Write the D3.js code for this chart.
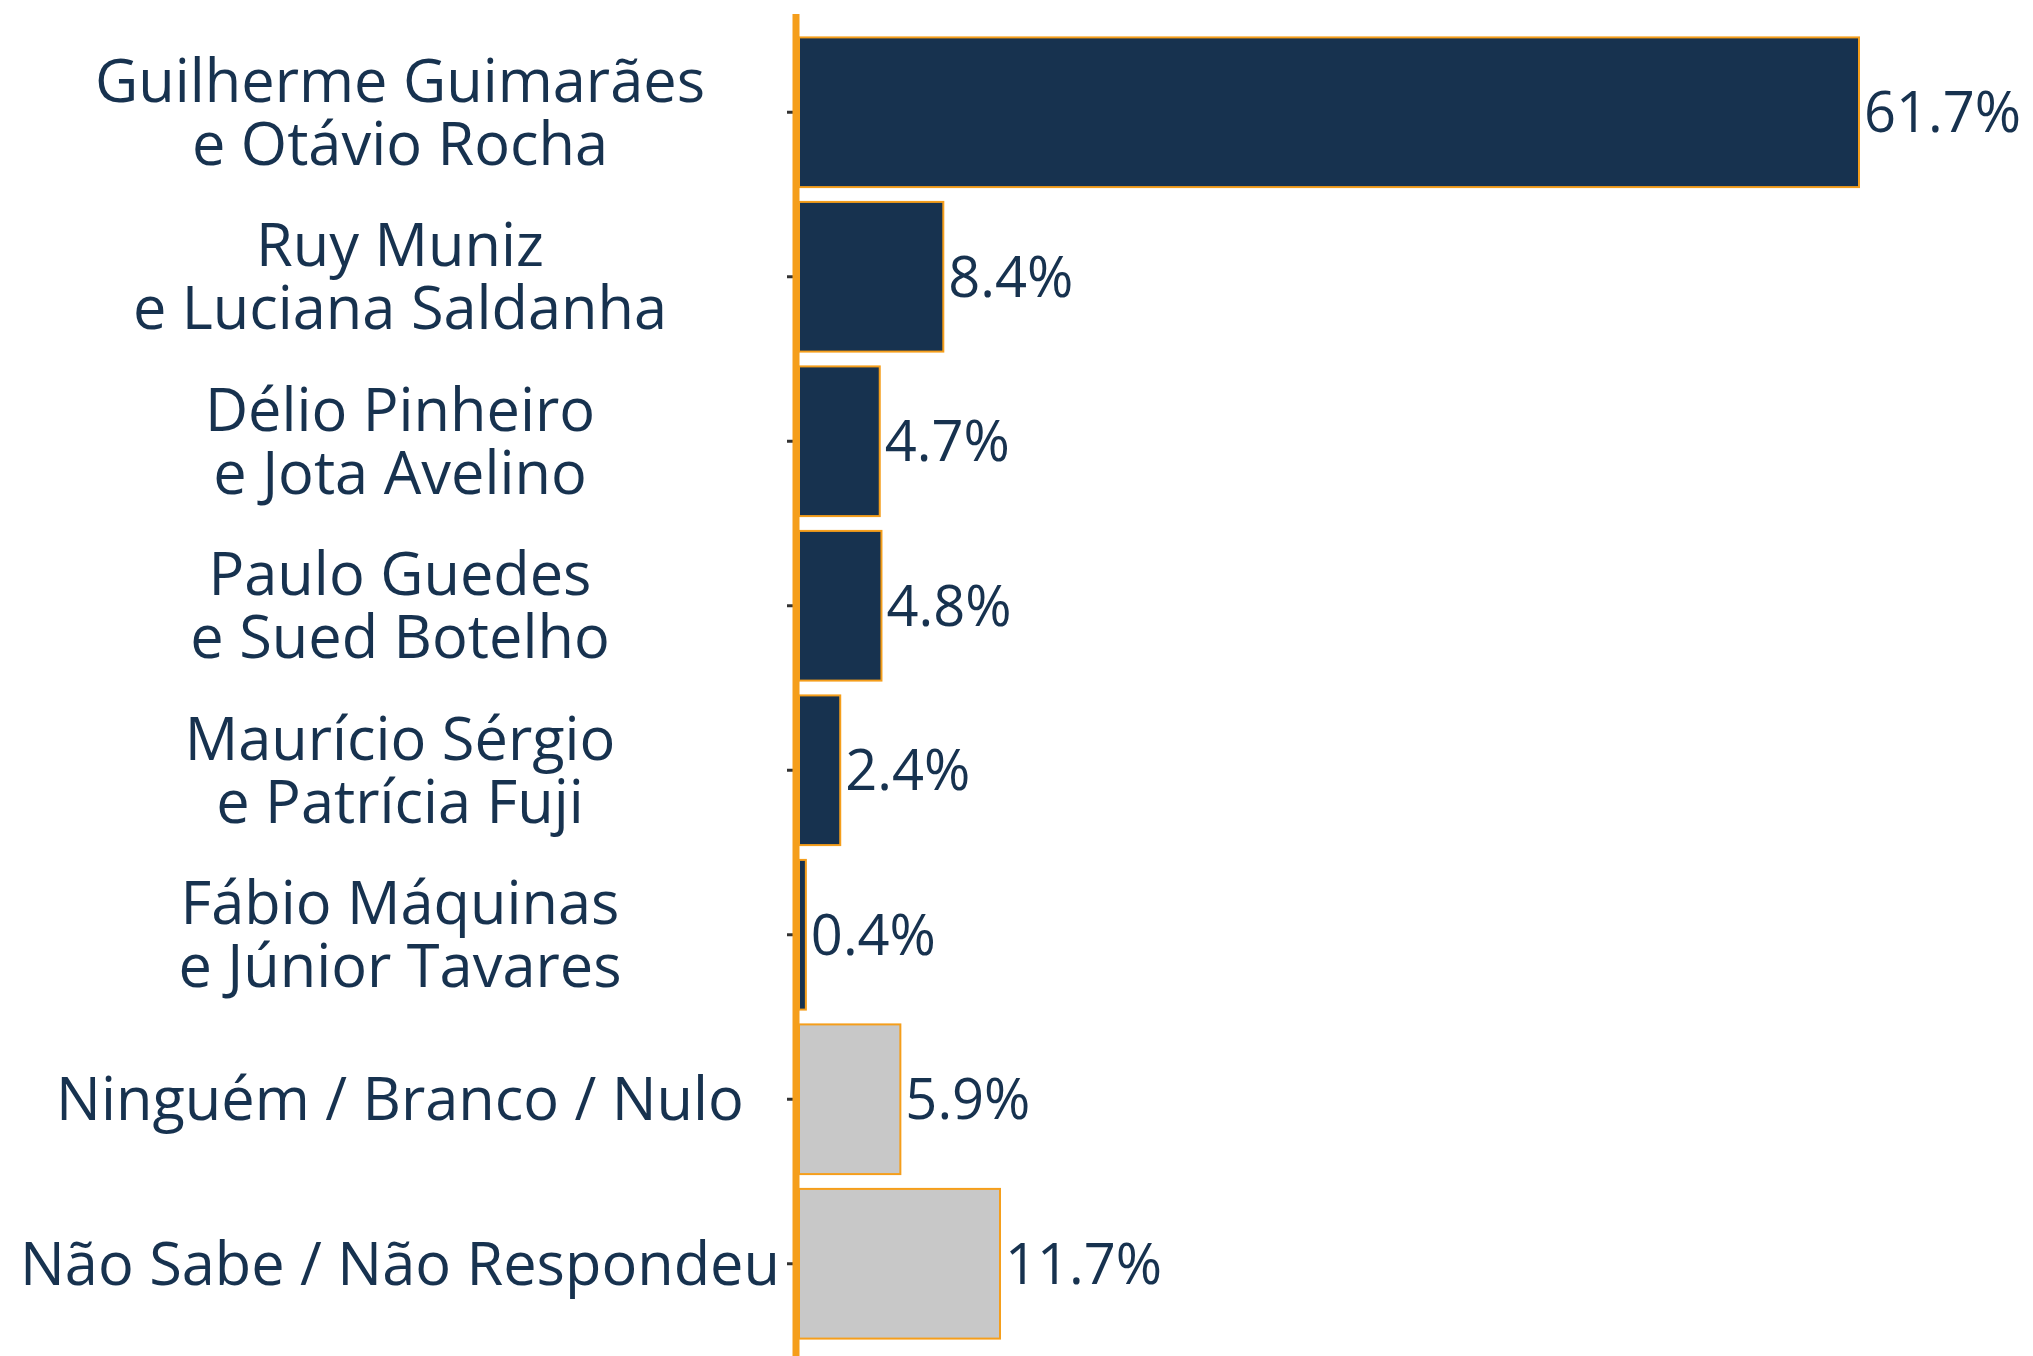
<!DOCTYPE html>
<html>
<head>
<meta charset="utf-8">
<script src="https://cdn.jsdelivr.net/npm/d3@7"></script>
<style>
  body { margin: 0; background: #fff; }
  text { font-family: "Open Sans", "Noto Sans", sans-serif; }
</style>
</head>
<body>
<svg id="chart"></svg>
<script>
var width = 2033, height = 1356;

// dados
var candidatos = [
  "Guilherme Guimarães\ne Otávio Rocha",
  "Ruy Muniz\ne Luciana Saldanha",
  "Délio Pinheiro\ne Jota Avelino",
  "Paulo Guedes\ne Sued Botelho",
  "Maurício Sérgio\ne Patrícia Fuji",
  "Fábio Máquinas\ne Júnior Tavares",
  "Ninguém / Branco / Nulo",
  "Não Sabe / Não Respondeu"
];
var percentuais = [61.7, 8.4, 4.7, 4.8, 2.4, 0.4, 5.9, 11.7];
var tipos = ["cand", "cand", "cand", "cand", "cand", "cand", "outro", "outro"];

var navy = "#17324f", laranja = "#f59e1b", cinza = "#c8c8c8";

var svg = d3.select("#chart").attr("width", width).attr("height", height);

var x0 = 799;
var x = d3.scaleLinear()
  .domain([0, 61.7])
  .range([x0, 1859]);

var y = d3.scaleBand()
  .domain(candidatos)
  .range([30, 1346])
  .paddingInner(0.09)
  .paddingOuter(0.045);

// barras
svg.selectAll("rect.barra")
  .data(candidatos)
  .enter()
  .append("rect")
  .attr("class", "barra")
  .attr("x", x(0))
  .attr("y", function (d) { return y(d); })
  .attr("width", function (d, i) { return x(percentuais[i]) - x(0); })
  .attr("height", y.bandwidth())
  .attr("fill", function (d, i) { return tipos[i] == "cand" ? navy : cinza; })
  .attr("stroke", laranja)
  .attr("stroke-width", 2);

// eixo y com ticks
var eixo = svg.append("g")
  .attr("transform", "translate(" + (x0 - 3) + ",0)")
  .call(d3.axisLeft(y).tickSize(9).tickFormat(""));
eixo.select(".domain").remove();
eixo.selectAll(".tick line").attr("stroke", "#333").attr("stroke-width", 3);

// linha laranja
svg.append("line")
  .attr("x1", x0 - 3).attr("x2", x0 - 3)
  .attr("y1", 14).attr("y2", height)
  .attr("stroke", laranja)
  .attr("stroke-width", 7);

// rótulos das categorias (uma linha = um texto)
var fsCat = 59.5, lh = 63, fs = 56;
var linhas = [];
candidatos.forEach(function (d) {
  var partes = d.split("\n");
  var c = y(d) + y.bandwidth() / 2;
  var base = c + fsCat * 0.357 - (partes.length - 1) * lh / 2;
  partes.forEach(function (l, k) {
    linhas.push({ texto: l, y: base + k * lh });
  });
});
svg.selectAll("text.cat")
  .data(linhas)
  .enter()
  .append("text")
  .attr("class", "cat")
  .attr("text-anchor", "middle")
  .attr("x", 400)
  .attr("y", function (d) { return d.y; })
  .attr("fill", navy)
  .style("font-size", fsCat + "px")
  .text(function (d) { return d.texto; });

// valores
svg.selectAll("text.valor")
  .data(candidatos)
  .enter()
  .append("text")
  .attr("class", "valor")
  .attr("x", function (d, i) { return x(percentuais[i]) + 5; })
  .attr("y", function (d) { return y(d) + y.bandwidth() / 2 + fs * 0.357; })
  .attr("fill", navy)
  .style("font-size", fs + "px")
  .text(function (d, i) { return percentuais[i].toFixed(1) + "%"; });
</script>
</body>
</html>
